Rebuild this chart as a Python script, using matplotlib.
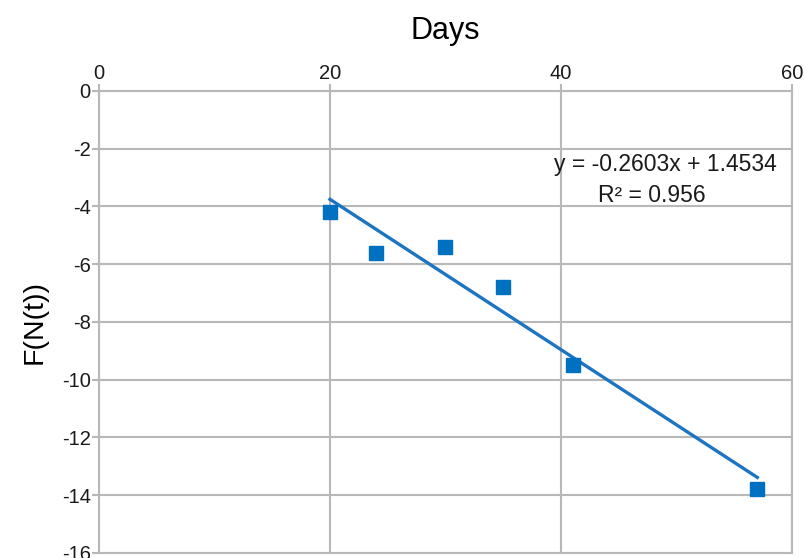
import numpy as np
import matplotlib.pyplot as plt

plt.rcParams['font.family'] = ['Liberation Sans', 'DejaVu Sans']
plt.rcParams['axes.unicode_minus'] = False

# Data
days = [20, 24, 30, 35, 41, 57]
f_nt = [-4.2, -5.6, -5.4, -6.8, -9.5, -13.8]

# Linear trend shown on the chart
slope = -0.2603
intercept = 1.4534

x_ticks = [0, 20, 40, 60]
y_ticks = [0, -2, -4, -6, -8, -10, -12, -14, -16]

grid_color = "#b8b8b8"
blue = "#0070c0"

fig = plt.figure(figsize=(8.06, 5.58), dpi=100)
ax = fig.add_axes([0.1228, 0.009, 0.8598, 0.828])

ax.set_xlim(0, 60)
ax.set_ylim(-16, 0)
ax.set_xticks(x_ticks)
ax.set_yticks(y_ticks)
ax.xaxis.tick_top()
ax.xaxis.set_label_position("top")
ax.grid(True, color=grid_color, linewidth=1.5)
ax.set_axisbelow(True)
for s in ax.spines.values():
    s.set_color(grid_color)
    s.set_linewidth(1.5)
ax.tick_params(axis="both", colors=grid_color, labelcolor="#1a1a1a",
               labelsize=14.5, length=5, width=1.5, pad=1)

# trend line across the data range
tx = np.array([min(days), max(days)])
ax.plot(tx, slope * tx + intercept, color="#1b75c3", linewidth=2.4, zorder=3)
ax.plot(days, f_nt, linestyle="none", marker="s", markersize=9.5,
        color=blue, zorder=4)

ax.text(49.0, -2.56, f"y = {slope}x + {intercept}", fontsize=16.5,
        ha="center", va="center", color="#1a1a1a")
ax.text(47.9, -3.62, "R² = 0.956", fontsize=16.5,
        ha="center", va="center", color="#1a1a1a")

ax.set_xlabel("Days", fontsize=22, labelpad=18)
ax.set_ylabel("F(N(t))", fontsize=20.5, labelpad=10)

fig.savefig("out.png", dpi=100)
